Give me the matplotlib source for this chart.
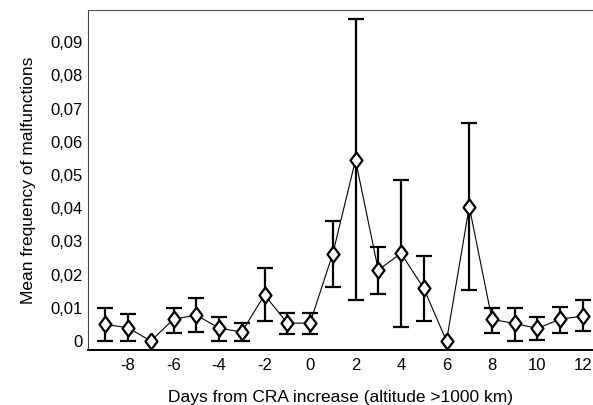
import numpy as np
import matplotlib.pyplot as plt
from matplotlib.ticker import FuncFormatter

plt.rcParams['font.family'] = ['Liberation Sans', 'DejaVu Sans']
plt.rcParams['axes.unicode_minus'] = False

days = [-9, -8, -7, -6, -5, -4, -3, -2, -1, 0, 1, 2, 3, 4, 5, 6, 7, 8, 9, 10, 11, 12]
mean = [0.005, 0.004, 0.0, 0.0066, 0.0078, 0.0039, 0.0027, 0.0139, 0.0054, 0.0054, 0.0263,
        0.0545, 0.0214, 0.0264, 0.0159, 0.0, 0.0405, 0.0065, 0.0053, 0.0038, 0.0066, 0.0075]
upper = [0.010, 0.008, 0.0, 0.010, 0.0129, 0.0072, 0.0054, 0.022, 0.0085, 0.0083, 0.0362,
         0.0969, 0.0284, 0.0485, 0.0256, 0.0, 0.0657, 0.0098, 0.0101, 0.0071, 0.0103, 0.0123]
lower = [0.0, 0.0, 0.0, 0.0024, 0.0028, 0.0, 0.0, 0.0061, 0.0021, 0.0021, 0.0162,
         0.0123, 0.0142, 0.0043, 0.0061, 0.0, 0.0154, 0.0025, 0.0, 0.0003, 0.0025, 0.003]

days = np.array(days)
mean = np.array(mean)
upper = np.array(upper)
lower = np.array(lower)
has_err = upper > lower

fig = plt.figure(figsize=(5.93, 4.05), dpi=100)
ax = fig.add_axes([0.1484, 0.1358, 0.8516, 0.8395])

ax.errorbar(days[has_err], mean[has_err],
            yerr=[mean[has_err] - lower[has_err], upper[has_err] - mean[has_err]],
            fmt='none', ecolor='black', elinewidth=1.6, capsize=5.5, capthick=1.6, zorder=2)

# diamond taller than wide
diamond = [(0, 1), (0.75, 0), (0, -1), (-0.75, 0), (0, 1)]
ax.plot(days, mean, color='black', lw=0.8, marker=diamond, markersize=11.5,
        markerfacecolor='white', markeredgecolor='black', markeredgewidth=1.6, zorder=3)

ax.set_xlim(-9.76, 12.44)
ax.set_ylim(-0.0027, 0.0997)
ax.set_xticks(np.arange(-8, 13, 2))
ax.set_yticks(np.arange(0, 0.091, 0.01))


def comma(v, pos):
    if abs(v) < 1e-9:
        return '0'
    return ('%.2f' % v).replace('.', ',')


ax.yaxis.set_major_formatter(FuncFormatter(comma))
ax.tick_params(length=0, labelsize=12)
ax.tick_params(axis='y', pad=4)
ax.tick_params(axis='x', pad=6)

ax.spines['right'].set_visible(False)
ax.spines['top'].set_color('#555555')
ax.spines['left'].set_color('#444444')
ax.spines['bottom'].set_color('black')
ax.spines['bottom'].set_linewidth(1.4)

ax.set_xlabel('Days from CRA increase (altitude >1000 km)', fontsize=12.5, labelpad=12)
ax.set_ylabel('Mean frequency of malfunctions', fontsize=12.5, labelpad=10)

fig.savefig('out.png', dpi=100)
